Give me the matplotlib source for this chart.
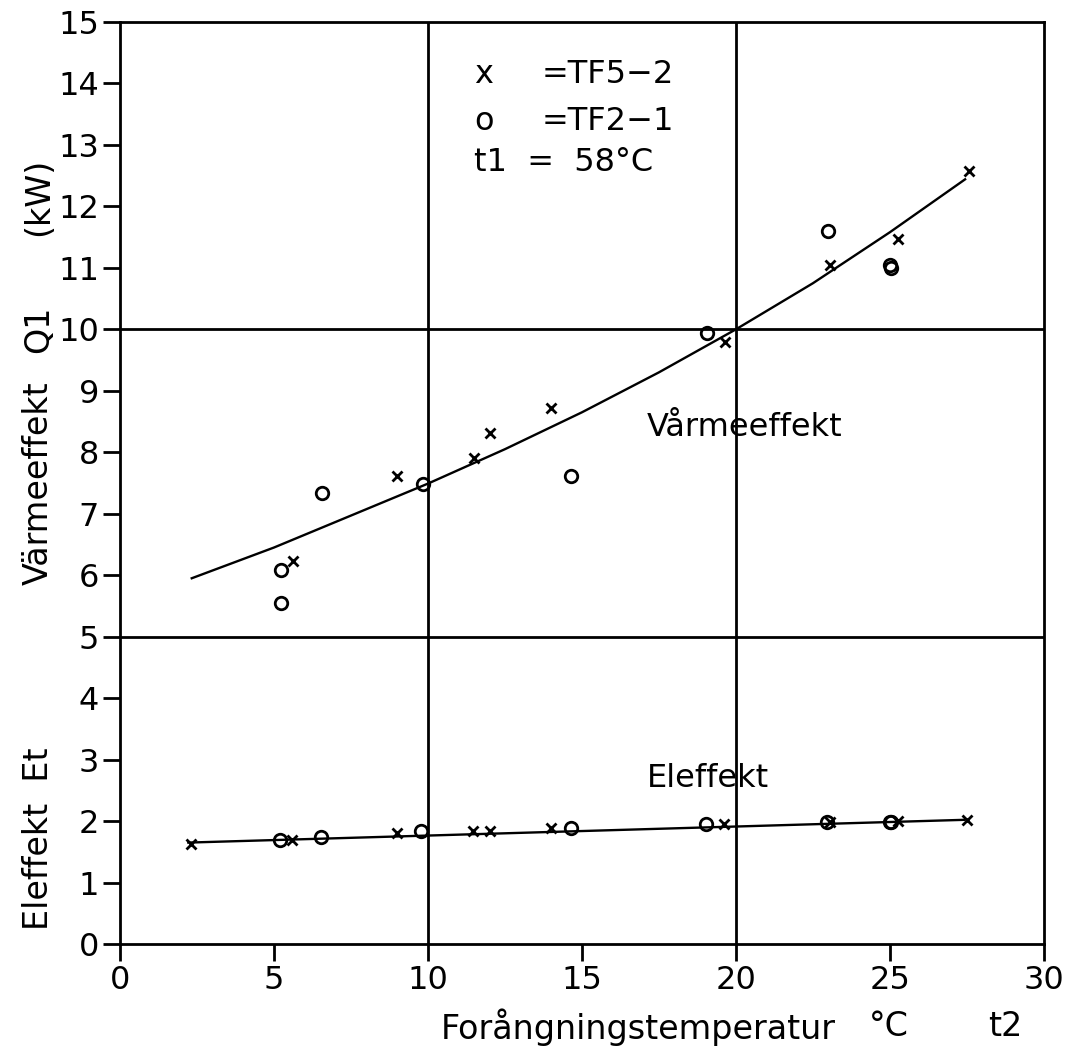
import numpy as np
import matplotlib
matplotlib.use("Agg")
import matplotlib.pyplot as plt
import matplotlib.transforms as mtransforms

plt.rcParams['font.family'] = ['DejaVu Sans']

# Värmeeffekt Q1 (kW), TF5-2 (x) och TF2-1 (o)
q1_tf5_t = [5.63, 9.0, 11.49, 12.03, 14.0, 19.64, 23.05, 25.27, 27.56]
q1_tf5 = [6.23, 7.61, 7.90, 8.32, 8.72, 9.79, 11.05, 11.47, 12.57]
q1_tf2_t = [5.23, 5.23, 6.55, 9.83, 14.63, 19.05, 23.0, 25.0, 25.05]
q1_tf2 = [6.08, 5.54, 7.34, 7.48, 7.61, 9.94, 11.6, 11.05, 11.0]

# kurva Q1
q1_fit_t = [2.33, 5, 7.5, 10, 12.5, 15, 17.5, 20, 22.5, 25, 27.44]
q1_fit = [5.95, 6.45, 6.97, 7.49, 8.05, 8.65, 9.3, 10.0, 10.75, 11.58, 12.44]

# Eleffekt Et (kW)
el_tf5_t = [2.3, 5.6, 9.0, 11.46, 12.0, 14.0, 19.6, 23.05, 25.27, 27.5]
el_tf5 = [1.62, 1.70, 1.80, 1.84, 1.84, 1.89, 1.95, 1.98, 2.0, 2.02]
el_tf2_t = [5.2, 6.52, 9.79, 14.63, 19.03, 22.95, 25.0, 25.05]
el_tf2 = [1.69, 1.74, 1.84, 1.88, 1.95, 1.98, 1.99, 1.98]
el_fit_t = [2.22, 27.4]
el_fit = [1.65, 2.02]

xticks = [0, 5, 10, 15, 20, 25, 30]
yticks = list(range(0, 16))

fig = plt.figure(figsize=(10.77, 10.51), dpi=100)
ax = fig.add_axes([0.1114, 0.1018, 0.8579, 0.8773])

lw = 2.0
for s in ax.spines.values():
    s.set_linewidth(lw)
for v in [10, 20]:
    ax.axvline(v, color='black', lw=lw)
for v in [5, 10]:
    ax.axhline(v, color='black', lw=lw)

ax.plot(q1_fit_t, q1_fit, color='black', lw=1.7)
ax.plot(el_fit_t, el_fit, color='black', lw=1.7)

ax.plot(q1_tf5_t, q1_tf5, 'x', color='black', ms=7, mew=2)
ax.plot(el_tf5_t, el_tf5, 'x', color='black', ms=7, mew=2)
ax.plot(q1_tf2_t, q1_tf2, 'o', color='black', mfc='none', ms=9, mew=2)
ax.plot(el_tf2_t, el_tf2, 'o', color='black', mfc='none', ms=9, mew=2)

ax.set_xlim(0, 30)
ax.set_ylim(0, 15)
ax.set_xticks(xticks)
ax.set_yticks(yticks)
ax.tick_params(direction='out', length=12, width=2, labelsize=23, pad=3)

# förklaring
fs = 23
ax.text(11.5, 14.15, 'x', fontsize=fs, va='center')
ax.text(13.7, 14.15, '=TF5\u22122', fontsize=fs, va='center')
ax.text(11.5, 13.38, 'o', fontsize=fs, va='center')
ax.text(13.7, 13.38, '=TF2\u22121', fontsize=fs, va='center')
ax.text(11.5, 12.72, 't1  =  58\u00b0C', fontsize=fs, va='center')

ax.text(17.1, 8.4, 'Vårmeeffekt', fontsize=23, va='center')
ax.text(17.1, 2.7, 'Eleffekt', fontsize=23, va='center')

# axeltexter
trans = mtransforms.blended_transform_factory(ax.transAxes, ax.transData)
yl_x = -0.088
ax.text(yl_x, 7.5, 'Värmeeffekt', fontsize=24, rotation=90,
        ha='center', va='center', transform=trans)
ax.text(yl_x, 10.0, 'Q1', fontsize=24, rotation=90,
        ha='center', va='center', transform=trans)
ax.text(yl_x, 12.15, '(kW)', fontsize=24, rotation=90,
        ha='center', va='center', transform=trans)
ax.text(yl_x, 1.72, 'Eleffekt  Et', fontsize=24, rotation=90,
        ha='center', va='center', transform=trans)

ax.text(10.4, -1.35, 'Forångningstemperatur', fontsize=24, va='center', clip_on=False)
ax.text(24.3, -1.35, '\u00b0C', fontsize=24, va='center', clip_on=False)
ax.text(28.2, -1.35, 't2', fontsize=24, va='center', clip_on=False)

fig.savefig('out.png', dpi=100)
